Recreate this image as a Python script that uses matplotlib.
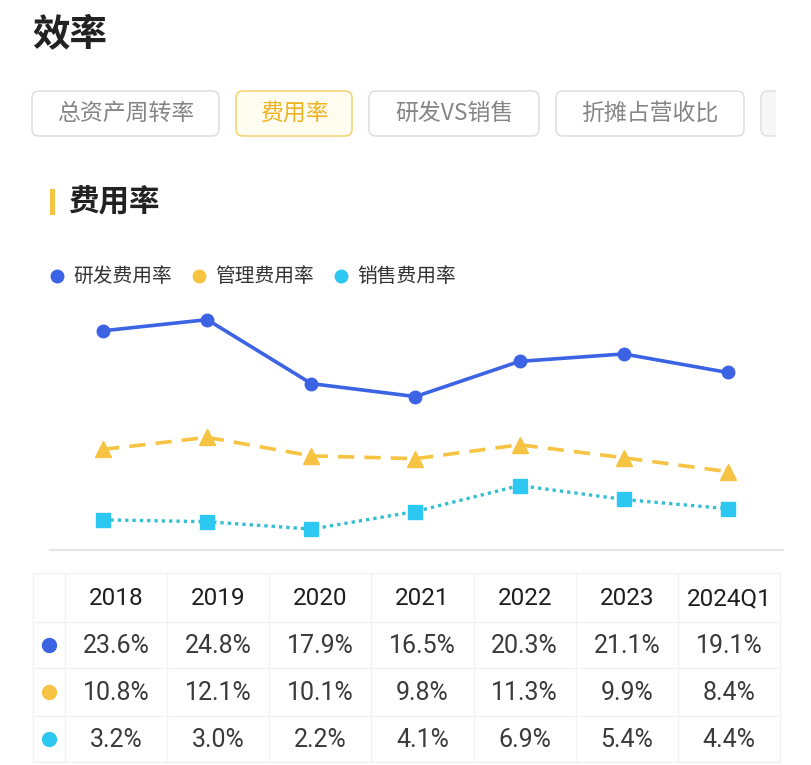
import matplotlib
matplotlib.use('Agg')
import matplotlib.pyplot as plt
from matplotlib.patches import FancyBboxPatch, Rectangle

plt.rcParams['font.family'] = ['Noto Sans CJK SC', 'DejaVu Sans']

# data
years = ['2018', '2019', '2020', '2021', '2022', '2023', '2024Q1']
rd_rate = [23.6, 24.8, 17.9, 16.5, 20.3, 21.1, 19.1]
admin_rate = [10.8, 12.1, 10.1, 9.8, 11.3, 9.9, 8.4]
sales_rate = [3.2, 3.0, 2.2, 4.1, 6.9, 5.4, 4.4]
series_names = ['研发费用率', '管理费用率', '销售费用率']
tab_labels = ['总资产周转率', '费用率', '研发VS销售', '折摊占营收比']
page_title = '效率'
section_title = '费用率'

BLUE = '#3b63e3'
YELLOW = '#f6c343'
CYAN = '#2cc8f2'
colors = [BLUE, YELLOW, CYAN]
num_font = ['Roboto', 'DejaVu Sans']

W, H = 812, 765
fig = plt.figure(figsize=(W / 100, H / 100), dpi=100)

# background layer in pixel coordinates
bg = fig.add_axes([0, 0, 1, 1])
bg.set_xlim(0, W)
bg.set_ylim(H, 0)
bg.axis('off')

bg.text(32, 34, page_title, fontsize=27, fontweight='bold', color='#222222',
        va='center', ha='left')

# tabs
tab_x = [(32, 219), (236, 352), (369, 539), (556, 744)]
for label, (x0, x1) in zip(tab_labels, tab_x):
    active = label == section_title
    box = FancyBboxPatch((x0, 91), x1 - x0, 45,
                         boxstyle='round,pad=0,rounding_size=7',
                         facecolor='#fffcf0' if active else 'white',
                         edgecolor='#f3d577' if active else '#e0e0e0', lw=1.2)
    bg.add_patch(box)
    bg.text((x0 + x1) / 2, 113, label, fontsize=16.5,
            color='#f0b323' if active else '#858585', ha='center', va='center')
bg.add_patch(FancyBboxPatch((761, 91), 80, 45, boxstyle='round,pad=0,rounding_size=7',
                            facecolor='#f7f7f7', edgecolor='#e2e2e2', lw=1.2))
bg.add_patch(Rectangle((776, 85), 40, 60, facecolor='white', edgecolor='none', zorder=3))

# section header
bg.add_patch(Rectangle((50, 189), 5, 26, facecolor=YELLOW, edgecolor='none'))
bg.text(68, 202, section_title, fontsize=22, fontweight='bold', color='#222222',
        va='center', ha='left')

# legend
leg_x = [57, 199, 341]
for name, c, lx in zip(series_names, colors, leg_x):
    bg.plot([lx], [276], 'o', color=c, markersize=9)
    bg.text(lx + 16, 276, name, fontsize=14.2, color='#333333', va='center', ha='left')

# line chart
ax = fig.add_axes([50 / W, 1 - 549.5 / H, 733 / W, (549.5 - 290) / H])
idx = list(range(len(years)))
ax.plot(idx, rd_rate, color=BLUE, lw=2.6, marker='o', markersize=9, zorder=3)
ax.plot(idx, admin_rate, color=YELLOW, lw=2.6, ls=(0, (4.5, 2.8)), marker='^',
        markersize=11, zorder=3)
ax.plot(idx, sales_rate, color='#35bfd3', lw=2.4, ls=(0, (1, 1.2)), marker='s',
        markersize=10, markerfacecolor=CYAN, markeredgecolor=CYAN, zorder=3)
ax.set_xlim(-0.51, 6.53)
ax.set_ylim(0, 28)
for s in ['top', 'left', 'right']:
    ax.spines[s].set_visible(False)
ax.spines['bottom'].set_color('#e6e6e6')
ax.spines['bottom'].set_linewidth(1.5)
ax.set_xticks([])
ax.set_yticks([])
ax.patch.set_alpha(0)

# table
tx0, tx1 = 33, 780
col0 = 65
col_w = (tx1 - col0) / len(years)
row_y = [573, 622, 668, 716, 762]
line_c = '#f2f2f2'
bg.add_patch(Rectangle((tx0, row_y[0]), tx1 - tx0, row_y[-1] - row_y[0],
                       facecolor='none', edgecolor=line_c, lw=1))
for y in row_y[1:-1]:
    bg.plot([tx0, tx1], [y, y], color=line_c, lw=1)
for j in range(len(years)):
    x = col0 + j * col_w
    bg.plot([x, x], [row_y[0], row_y[-1]], color=line_c, lw=1)

for j, yr in enumerate(years):
    cx = col0 + (j + 0.5) * col_w
    bg.text(cx, (row_y[0] + row_y[1]) / 2 + 1, yr, fontsize=17.5, color='#1e1e1e',
            ha='center', va='center', family=num_font)
for r, (vals, c) in enumerate(zip([rd_rate, admin_rate, sales_rate], colors)):
    cy = (row_y[r + 1] + row_y[r + 2]) / 2
    bg.plot([49], [cy], 'o', color=c, markersize=10)
    for j, v in enumerate(vals):
        cx = col0 + (j + 0.5) * col_w
        bg.text(cx, cy + 1, f'{v:.1f}%', fontsize=18, color='#3a3a3a',
                ha='center', va='center', family=num_font)

fig.savefig('out.png', dpi=100, facecolor='white')
